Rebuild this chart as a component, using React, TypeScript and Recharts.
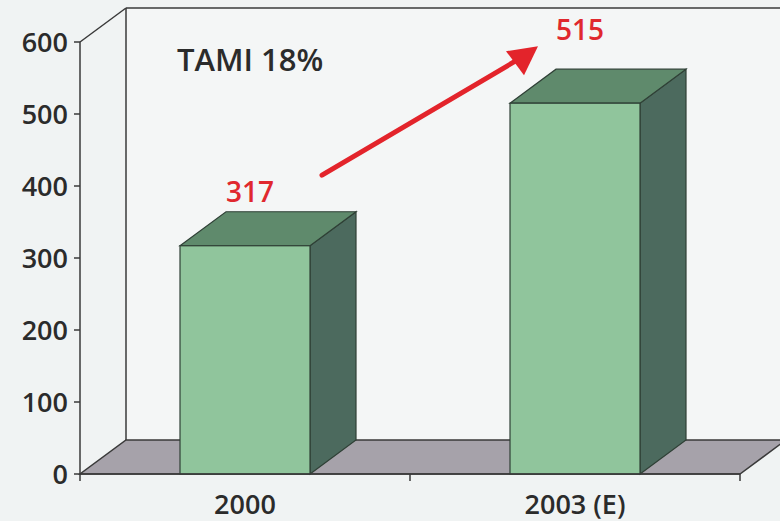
import React from 'react';
import { BarChart, Bar, XAxis, YAxis, ReferenceArea, LabelList } from 'recharts';

const categories = ['2000', '2003 (E)'];
const marketValues = [317, 515];
const yTicks = [0, 100, 200, 300, 400, 500, 600];
const headline = 'TAMI 18%';

const data = categories.map((name, i) => ({ name, value: marketValues[i] }));

// 3D depth offset used for the walls, floor and boxes
const DX = 46;
const DY = -34;
const FONT = '"Open Sans", "DejaVu Sans", sans-serif';

// back wall + floor, drawn from the plot rectangle
const Room = (props: any) => {
  const { x, y, width, height } = props;
  const bottom = y + height;
  return (
    <g>
      <rect x={x + DX} y={y + DY} width={800 - x - DX} height={height} fill="#f4f6f6" />
      <line x1={x + DX} y1={y + DY} x2={x + DX} y2={bottom + DY} stroke="#3a3a3a" strokeWidth={1.5} />
      <line x1={x + DX} y1={y + DY} x2={800} y2={y + DY} stroke="#3a3a3a" strokeWidth={1.5} />
      <line x1={x} y1={y} x2={x + DX} y2={y + DY} stroke="#3a3a3a" strokeWidth={1.5} />
      <polygon
        points={`${x},${bottom} ${x + width},${bottom} ${x + width + DX},${bottom + DY} ${x + DX},${bottom + DY}`}
        fill="#a6a2aa"
        stroke="#3a3a3a"
        strokeWidth={1.5}
      />
      {[0, 0.5, 1].map((f) => (
        <line key={f} x1={x + width * f} y1={bottom} x2={x + width * f} y2={bottom + 7} stroke="#3a3a3a" strokeWidth={1.5} />
      ))}
    </g>
  );
};

const Box3D = (props: any) => {
  const { x, y, width, height } = props;
  const edge = '#2f4036';
  return (
    <g>
      <polygon
        points={`${x + width},${y} ${x + width + DX},${y + DY} ${x + width + DX},${y + height + DY} ${x + width},${y + height}`}
        fill="#4c6a5e"
        stroke={edge}
        strokeWidth={1.2}
      />
      <polygon
        points={`${x},${y} ${x + DX},${y + DY} ${x + width + DX},${y + DY} ${x + width},${y}`}
        fill="#5f8a6c"
        stroke={edge}
        strokeWidth={1.2}
      />
      <rect x={x} y={y} width={width} height={height} fill="#90c59c" stroke={edge} strokeWidth={1.2} />
    </g>
  );
};

// value labels, plus the growth arrow pointing at the second bar
const ValueLabel = (props: any) => {
  const { x, y, width, value, index } = props;
  const cx = x + width / 2 + 5;
  const lift = index === 0 ? 44 : 63;
  return (
    <g>
      {index === 1 && (
        <g>
          <line x1={x - 188} y1={y + 72} x2={x + 12} y2={y - 46} stroke="#e3242b" strokeWidth={5} strokeLinecap="round" />
          <polygon points={`${x + 28},${y - 57} ${x - 4},${y - 52} ${x + 14},${y - 28}`} fill="#e3242b" />
        </g>
      )}
      <text x={cx} y={y - lift} textAnchor="middle" fill="#e0282e" fontFamily={FONT} fontWeight={600} fontSize={28}>
        {value}
      </text>
    </g>
  );
};

export default function App() {
  return (
    <div style={{ position: 'absolute', left: 0, top: 0, width: 780, height: 521, background: '#f0f3f3' }}>
      <BarChart
        width={780}
        height={521}
        data={data}
        margin={{ top: 42, right: 40, bottom: 0, left: 0 }}
        barSize={130}
      >
        <XAxis
          dataKey="name"
          height={47}
          axisLine={{ stroke: '#3a3a3a', strokeWidth: 1.5 }}
          tickLine={false}
          tickSize={6}
          tickMargin={15}
          tick={{ fill: '#2b2b2b', fontSize: 27, fontWeight: 600, fontFamily: FONT }}
        />
        <YAxis
          width={80}
          domain={[0, 600]}
          ticks={yTicks}
          interval={0}
          axisLine={{ stroke: '#3a3a3a', strokeWidth: 1.5 }}
          tickLine={{ stroke: '#3a3a3a', strokeWidth: 1.5 }}
          tickSize={6}
          tickMargin={6}
          tick={{ fill: '#2b2b2b', fontSize: 27, fontWeight: 600, fontFamily: FONT }}
        />
        <ReferenceArea y1={0} y2={600} shape={Room} ifOverflow="visible" />
        <Bar dataKey="value" shape={Box3D} isAnimationActive={false}>
          <LabelList dataKey="value" content={ValueLabel} />
        </Bar>
      </BarChart>
      <div
        style={{
          position: 'absolute',
          left: 177,
          top: 41,
          fontFamily: FONT,
          fontWeight: 600,
          fontSize: 31,
          lineHeight: '36px',
          color: '#2b2b2b',
        }}
      >
        {headline}
      </div>
    </div>
  );
}
